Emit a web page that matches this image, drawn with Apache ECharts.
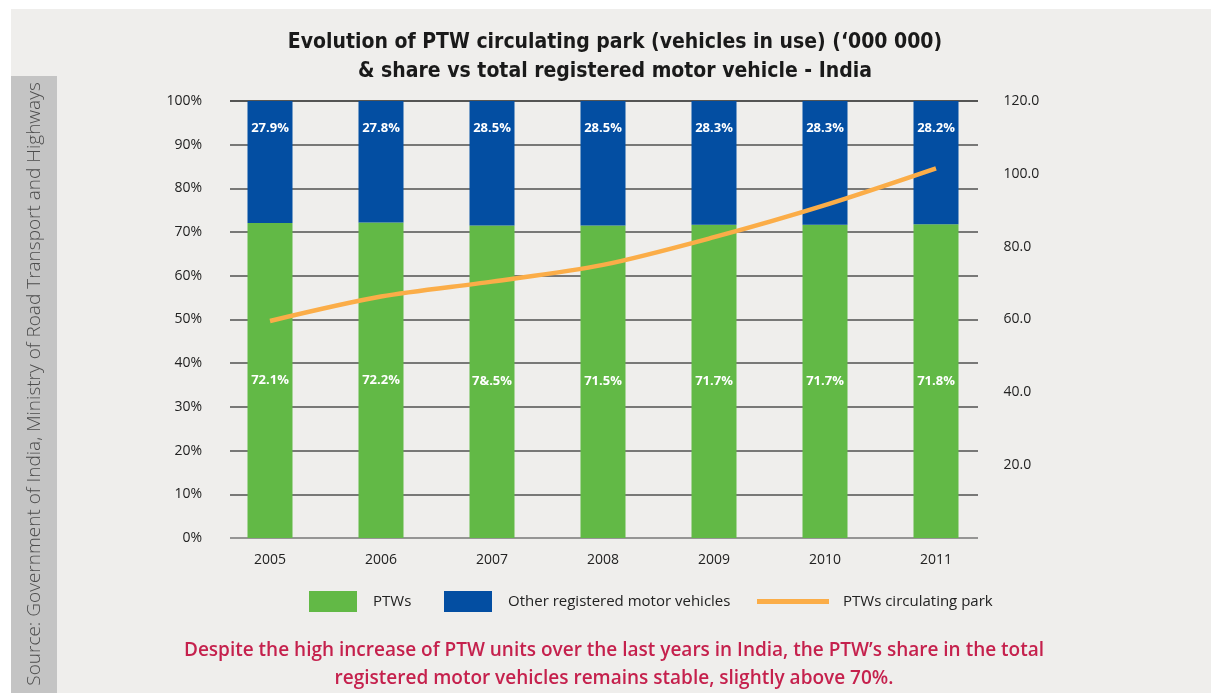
<!DOCTYPE html>
<html>
<head>
<meta charset="utf-8">
<script src="https://cdn.jsdelivr.net/npm/echarts@6/dist/echarts.min.js"></script>
<style>
html,body{margin:0;padding:0;background:#fff;}
#chart{width:1211px;height:693px;}
</style>
</head>
<body>
<div id="chart"></div>
<script>
var years = ['2005','2006','2007','2008','2009','2010','2011'];
var ptwShare = [72.1, 72.2, 71.5, 71.5, 71.7, 71.7, 71.8];
var ptwLabelText = ['72.1%','72.2%','7&.5%','71.5%','71.7%','71.7%','71.8%'];
var otherShare = [27.9, 27.8, 28.5, 28.5, 28.3, 28.3, 28.2];
var ptwPark = [59.6, 66.3, 70.4, 75.0, 82.6, 91.4, 101.5];
var leftTicks = {min: 0, max: 100, interval: 10};
var rightTicks = {min: 0, max: 120, interval: 20};

var titleText = 'Evolution of PTW circulating park (vehicles in use) (\u2018000 000)\n& share vs total registered motor vehicle - India';
var noteText = 'Despite the high increase of PTW units over the last years in India, the PTW\u2019s share in the total\nregistered motor vehicles remains stable, slightly above 70%.';
var sourceText = 'Source: Government of India, Ministry of Road Transport and Highways';

var narrow = '"Liberation Sans Narrow", "DejaVu Sans Condensed", sans-serif';
var body = '"Open Sans", "Liberation Sans", sans-serif';

var chart = echarts.init(document.getElementById('chart'), null, {renderer: 'canvas'});
var option = {
  backgroundColor: '#ffffff',
  animation: false,
  textStyle: {fontFamily: body},
  graphic: [
    {type: 'rect', z: -10, shape: {x: 11, y: 9, width: 1200, height: 684}, style: {fill: '#efeeec'}},
    {type: 'rect', z: -9, shape: {x: 11, y: 76, width: 46, height: 617}, style: {fill: '#c4c4c4'}},
    {type: 'text', z: -8, x: 35, y: 384, rotation: Math.PI / 2,
      style: {text: sourceText, fill: '#4d4d4d', font: '300 19px "Open Sans", sans-serif', textAlign: 'center', textVerticalAlign: 'middle'}},
    {type: 'text', x: 615, y: 28,
      style: {text: titleText, fill: '#1a1a1a', font: 'bold 21px ' + narrow, lineHeight: 29, textAlign: 'center', textVerticalAlign: 'top'}},
    {type: 'text', x: 614, y: 636.5,
      style: {text: noteText, fill: '#c5214d', font: '600 19px ' + body, lineHeight: 28, textAlign: 'center', textVerticalAlign: 'top'}}
  ],
  legend: [
    {left: 309, top: 591, padding: 0, icon: 'rect', itemWidth: 48, itemHeight: 21, selectedMode: false,
      data: ['PTWs'], textStyle: {fontSize: 15, color: '#222', padding: [0, 0, 0, 11], fontFamily: body}},
    {left: 444, top: 591, padding: 0, icon: 'rect', itemWidth: 48, itemHeight: 21, selectedMode: false,
      data: ['Other registered motor vehicles'], textStyle: {fontSize: 15, color: '#222', padding: [0, 0, 0, 11], fontFamily: body}},
    {left: 757, top: 594, padding: 0, icon: 'rect', itemWidth: 72, itemHeight: 5, selectedMode: false,
      data: ['PTWs circulating park'], textStyle: {fontSize: 15, color: '#222', padding: [0, 0, 0, 9], fontFamily: body}}
  ],
  grid: [
    {left: 230, right: 233, top: 101, bottom: 155},
    {left: 214.5, right: 219.5, top: 101, bottom: 155}
  ],
  xAxis: [
    {gridIndex: 0, type: 'category', data: years, show: false},
    {gridIndex: 1, type: 'category', data: years,
      axisLine: {show: false}, axisTick: {show: false},
      axisLabel: {margin: 15, fontSize: 14, color: '#222', fontFamily: body}}
  ],
  yAxis: [
    {gridIndex: 0, type: 'value', min: leftTicks.min, max: leftTicks.max, interval: leftTicks.interval,
      axisLine: {show: false}, axisTick: {show: false},
      axisLabel: {formatter: '{value}%', margin: 28, fontSize: 14, color: '#222', fontFamily: body},
      splitLine: {show: true, lineStyle: {color: ['#777777', '#505050', '#505050', '#505050', '#505050', '#505050', '#505050', '#505050', '#505050', '#505050', '#222222'], width: 1.5}}},
    {gridIndex: 1, type: 'value', min: 0, max: 100, show: false},
    {gridIndex: 1, type: 'value', position: 'right', min: rightTicks.min, max: rightTicks.max, interval: rightTicks.interval,
      axisLine: {show: false}, axisTick: {show: false}, splitLine: {show: false},
      axisLabel: {showMinLabel: false, margin: 12, fontSize: 14, color: '#222', fontFamily: body,
        formatter: function (v) { return v.toFixed(1); }}}
  ],
  series: [
    {name: 'PTWs', type: 'bar', xAxisIndex: 1, yAxisIndex: 1, stack: 'share', barWidth: 45,
      itemStyle: {color: '#62b946'}, data: ptwShare,
      label: {show: true, position: 'inside', color: '#fff', fontWeight: 'bold', fontSize: 13, fontFamily: body,
        formatter: function (p) { return ptwLabelText[p.dataIndex]; }}},
    {name: 'Other registered motor vehicles', type: 'bar', xAxisIndex: 1, yAxisIndex: 1, stack: 'share', barWidth: 45,
      itemStyle: {color: '#034ea2'}, data: otherShare,
      label: {show: true, position: 'insideTop', distance: 21, color: '#fff', fontWeight: 'bold', fontSize: 13, fontFamily: body,
        formatter: function (p) { return p.value.toFixed(1) + '%'; }}},
    {name: 'PTWs circulating park', type: 'line', xAxisIndex: 1, yAxisIndex: 2, smooth: 0.3,
      symbol: 'none', showSymbol: false, data: ptwPark,
      itemStyle: {color: '#fbad48'},
      lineStyle: {color: '#fbad48', width: 4.5}}
  ]
};
chart.setOption(option);
</script>
</body>
</html>
